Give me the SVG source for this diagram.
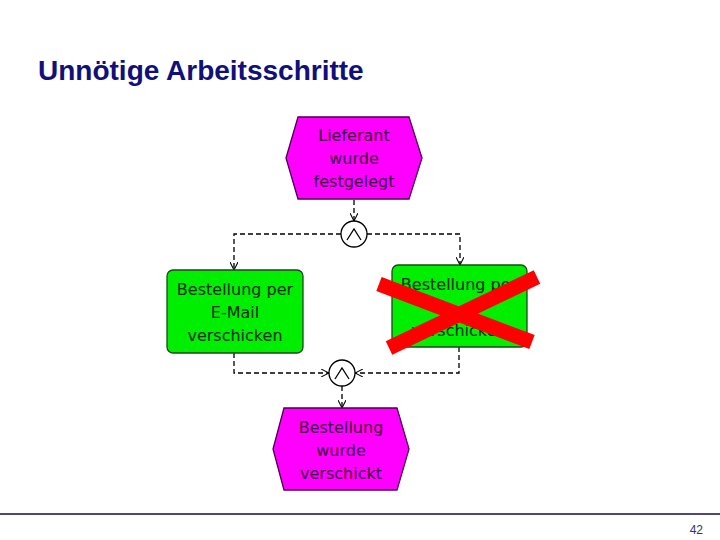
<svg xmlns="http://www.w3.org/2000/svg" width="720" height="540" viewBox="0 0 720 540">
<defs>
<style>
.title{font-family:"Liberation Sans",Arial,sans-serif;font-weight:bold;font-size:28px;fill:#10107a}
.evt{fill:#ff00ff;stroke:#4a0050;stroke-width:1.3}
.fn{fill:#00ee00;stroke:#1a4a1a;stroke-width:1.3}
.lbl{font-family:"DejaVu Sans",Verdana,sans-serif;font-size:16px;text-anchor:middle}
.elbl{fill:#3a0040}
.flbl{fill:#0a2a0a}
.conn{fill:none;stroke:#000;stroke-width:1.3;stroke-dasharray:5,3}
.op{fill:#fff;stroke:#000;stroke-width:1.3}
.sym{fill:none;stroke:#000;stroke-width:1.3}
.cross{stroke:#ff0000;stroke-width:15;stroke-linecap:butt}
</style>
<marker id="arr" viewBox="0 0 10 10" refX="10" refY="5" markerWidth="8" markerHeight="8" orient="auto" markerUnits="userSpaceOnUse">
<path d="M0,0 L10,5 L0,10" fill="none" stroke="#000" stroke-width="1.3"/>
</marker>
</defs>
<rect width="720" height="540" fill="#fff"/>
<text class="title" x="38" y="80">Unnötige Arbeitsschritte</text>

<g id="connectors">
<path class="conn" d="M354,200 V221" marker-end="url(#arr)"/>
<path class="conn" d="M341,234 H234 V270" marker-end="url(#arr)"/>
<path class="conn" d="M367,234 H460 V265" marker-end="url(#arr)"/>
<path class="conn" d="M234,353 V373 H329" marker-end="url(#arr)"/>
<path class="conn" d="M459,347 V373 H355" marker-end="url(#arr)"/>
<path class="conn" d="M342,386 V408" marker-end="url(#arr)"/>
</g>

<g id="event-lieferant">
<polygon class="evt" points="298,117 409,117 422,158 409,199 298,199 286,158"/>
<text class="lbl elbl" x="354" y="141">Lieferant</text>
<text class="lbl elbl" x="354" y="164">wurde</text>
<text class="lbl elbl" x="354" y="187">festgelegt</text>
</g>

<g id="and-split">
<circle class="op" cx="354" cy="234" r="13"/>
<polyline class="sym" points="347,240 354,229 361,240"/>
</g>

<g id="func-email">
<rect class="fn" x="167" y="270" width="136" height="83" rx="6"/>
<text class="lbl flbl" x="235" y="295">Bestellung per</text>
<text class="lbl flbl" x="235" y="318">E-Mail</text>
<text class="lbl flbl" x="235" y="341">verschicken</text>
</g>

<g id="func-other">
<rect class="fn" x="392" y="265" width="135" height="82" rx="6"/>
<text class="lbl flbl" x="459" y="290">Bestellung per</text>
<text class="lbl flbl" x="459" y="336">verschicken</text>
</g>

<g id="cross">
<line class="cross" x1="379" y1="284" x2="532" y2="342"/>
<line class="cross" x1="389" y1="348" x2="537" y2="277"/>
</g>

<g id="and-join">
<circle class="op" cx="342" cy="373" r="13"/>
<polyline class="sym" points="335,379 342,368 349,379"/>
</g>

<g id="event-verschickt">
<polygon class="evt" points="284,408 397,408 409,449 397,490 284,490 273,449"/>
<text class="lbl elbl" x="341" y="433">Bestellung</text>
<text class="lbl elbl" x="341" y="456">wurde</text>
<text class="lbl elbl" x="341" y="479">verschickt</text>
</g>

<line x1="0" y1="514" x2="720" y2="514" stroke="#4a4a80" stroke-width="2"/>
<text x="703" y="534" font-family="Liberation Sans,Arial,sans-serif" font-size="12" fill="#333366" text-anchor="end">42</text>
</svg>
